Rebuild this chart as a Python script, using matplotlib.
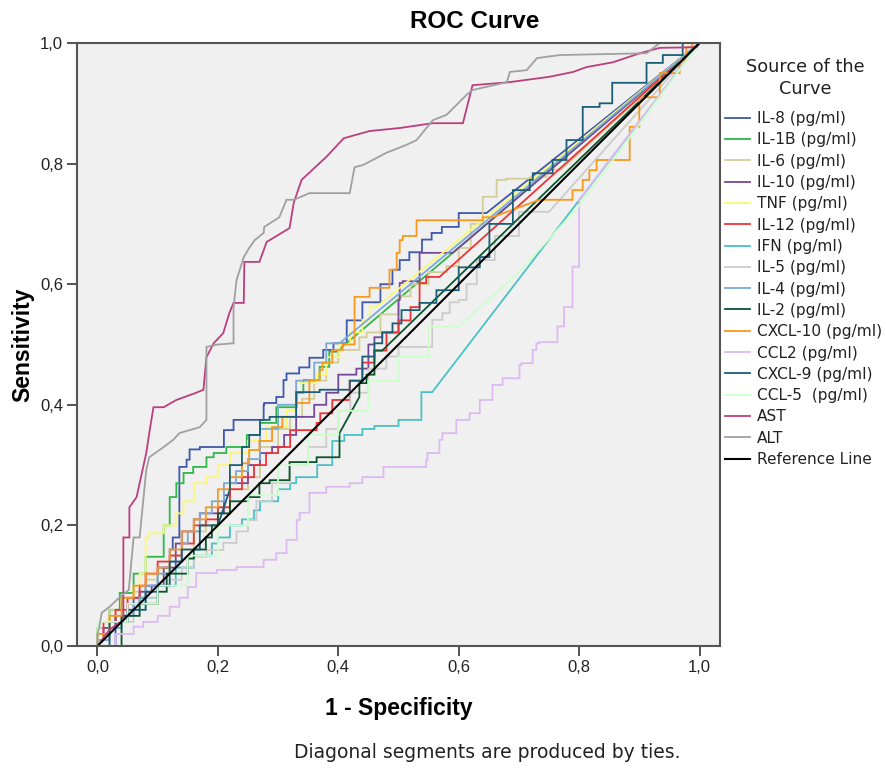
import matplotlib
matplotlib.use("Agg")
import matplotlib.pyplot as plt

plt.rcParams['font.family'] = ['Liberation Sans', 'DejaVu Sans']

# ---------------- data ----------------
labels = ["IL-8 (pg/ml)", "IL-1B (pg/ml)", "IL-6 (pg/ml)", "IL-10 (pg/ml)", "TNF (pg/ml)",
          "IL-12 (pg/ml)", "IFN (pg/ml)", "IL-5 (pg/ml)", "IL-4 (pg/ml)", "IL-2 (pg/ml)",
          "CXCL-10 (pg/ml)", "CCL2 (pg/ml)", "CXCL-9 (pg/ml)", "CCL-5  (pg/ml)", "AST", "ALT"]
colors = ['#3E58AC', '#2EB848', '#D3CE97', '#74489A', '#FBF873', '#EF3338', '#48C2C5', '#CCCCCC',
          '#7AAAD5', '#0A562C', '#F8981D', '#DDBAF1', '#1A5F76', '#CCFFCC', '#BB3F7F', '#A0A0A0']

il8_x = [0, 0.03, 0.03, 0.06, 0.08, 0.10, 0.12, 0.125, 0.136, 0.136, 0.148, 0.153, 0.17, 0.21, 0.226, 0.231, 0.276, 0.277, 0.297, 0.309, 0.314, 0.335, 0.352, 0.375, 0.392, 0.414, 0.44, 0.47, 0.49, 0.502, 0.518, 0.539, 0.555, 0.572, 0.60, 0.646, 1.0]
il8_y = [0, 0.0, 0.03, 0.05, 0.08, 0.10, 0.13, 0.16, 0.18, 0.297, 0.297, 0.309, 0.326, 0.33, 0.358, 0.375, 0.375, 0.40, 0.403, 0.413, 0.441, 0.452, 0.462, 0.478, 0.491, 0.502, 0.54, 0.57, 0.60, 0.624, 0.64, 0.653, 0.674, 0.685, 0.695, 0.718, 1.0]

il1b_x = [0, 0.02, 0.037, 0.06, 0.08, 0.11, 0.12, 0.131, 0.143, 0.159, 0.181, 0.193, 0.214, 0.226, 0.248, 0.27, 0.297, 0.331, 0.342, 0.369, 0.385, 0.397, 1.0]
il1b_y = [0, 0.03, 0.06, 0.088, 0.12, 0.148, 0.20, 0.247, 0.27, 0.287, 0.297, 0.313, 0.32, 0.33, 0.33, 0.35, 0.37, 0.396, 0.42, 0.441, 0.463, 0.488, 1.0]

il6_x = [0, 0.0, 0.02, 0.04, 0.06, 0.08, 0.10, 0.12, 0.14, 0.16, 0.18, 0.20, 0.22, 0.25, 0.27, 0.30, 0.32, 0.34, 0.36, 0.38, 0.40, 0.414, 0.435, 0.447, 0.47, 0.50, 0.52, 0.55, 0.58, 0.60, 0.62, 0.64, 0.663, 0.663, 0.679, 0.72, 0.746, 0.77, 1.0]
il6_y = [0, 0.03, 0.03, 0.06, 0.08, 0.09, 0.11, 0.12, 0.15, 0.16, 0.19, 0.20, 0.23, 0.26, 0.28, 0.33, 0.36, 0.38, 0.41, 0.44, 0.47, 0.491, 0.491, 0.512, 0.52, 0.55, 0.58, 0.60, 0.62, 0.63, 0.66, 0.70, 0.745, 0.756, 0.773, 0.775, 0.778, 0.79, 1.0]

il10_x = [0, 0.01, 0.03, 0.05, 0.07, 0.09, 0.11, 0.13, 0.14, 0.16, 0.17, 0.19, 0.21, 0.22, 0.25, 0.27, 0.29, 0.31, 0.33, 0.36, 0.38, 0.40, 0.43, 0.45, 0.46, 0.473, 0.50, 0.502, 0.507, 0.535, 0.535, 0.59, 1.0]
il10_y = [0, 0.02, 0.03, 0.05, 0.07, 0.09, 0.10, 0.13, 0.17, 0.19, 0.21, 0.22, 0.22, 0.25, 0.27, 0.30, 0.32, 0.33, 0.35, 0.38, 0.40, 0.42, 0.45, 0.46, 0.50, 0.512, 0.52, 0.574, 0.602, 0.605, 0.645, 0.652, 1.0]

tnf_x = [0, 0.02, 0.04, 0.06, 0.07, 0.08, 0.08, 0.086, 0.11, 0.13, 0.143, 0.16, 0.181, 0.20, 0.22, 0.25, 0.28, 0.314, 0.33, 0.364, 0.38, 0.402, 0.42, 0.44, 0.452, 0.463, 1.0]
tnf_y = [0, 0.02, 0.05, 0.08, 0.10, 0.12, 0.16, 0.18, 0.187, 0.20, 0.22, 0.24, 0.27, 0.28, 0.30, 0.32, 0.34, 0.363, 0.39, 0.436, 0.45, 0.479, 0.50, 0.52, 0.541, 0.562, 1.0]

il12_x = [0, 0.01, 0.03, 0.05, 0.07, 0.08, 0.10, 0.12, 0.14, 0.16, 0.18, 0.20, 0.22, 0.24, 0.26, 0.28, 0.30, 0.32, 0.34, 0.364, 0.37, 0.39, 0.419, 0.44, 0.46, 0.48, 0.50, 0.52, 0.535, 0.546, 0.568, 1.0]
il12_y = [0, 0.01, 0.04, 0.06, 0.08, 0.10, 0.12, 0.14, 0.15, 0.17, 0.20, 0.21, 0.23, 0.26, 0.28, 0.30, 0.32, 0.33, 0.358, 0.358, 0.37, 0.386, 0.408, 0.44, 0.47, 0.49, 0.52, 0.54, 0.562, 0.602, 0.612, 1.0]

ifn_x = [0, 0.02, 0.05, 0.07, 0.10, 0.13, 0.16, 0.19, 0.20, 0.22, 0.24, 0.26, 0.27, 0.30, 0.32, 0.33, 0.365, 0.39, 0.41, 0.42, 0.44, 0.46, 0.48, 0.50, 0.502, 0.538, 0.538, 0.556, 1.0]
ifn_y = [0, 0.02, 0.04, 0.06, 0.08, 0.10, 0.13, 0.15, 0.17, 0.18, 0.20, 0.21, 0.225, 0.24, 0.26, 0.27, 0.28, 0.30, 0.34, 0.35, 0.35, 0.36, 0.365, 0.365, 0.375, 0.375, 0.421, 0.421, 1.0]

il5_x = [0, 0.02, 0.04, 0.06, 0.08, 0.10, 0.12, 0.14, 0.16, 0.181, 0.209, 0.231, 0.25, 0.264, 0.29, 0.32, 0.35, 0.38, 0.40, 0.42, 0.45, 0.48, 0.50, 0.513, 0.556, 0.556, 0.573, 0.585, 0.60, 0.613, 0.63, 0.66, 0.70, 0.75, 1.0]
il5_y = [0, 0.01, 0.03, 0.04, 0.06, 0.08, 0.10, 0.11, 0.13, 0.148, 0.159, 0.171, 0.19, 0.209, 0.24, 0.27, 0.30, 0.33, 0.36, 0.39, 0.42, 0.46, 0.48, 0.496, 0.496, 0.519, 0.541, 0.552, 0.57, 0.574, 0.60, 0.64, 0.68, 0.72, 1.0]

il4_x = [0, 0.02, 0.04, 0.06, 0.08, 0.10, 0.12, 0.14, 0.15, 0.17, 0.19, 0.21, 0.23, 0.25, 0.27, 0.30, 0.33, 0.36, 0.38, 0.402, 1.0]
il4_y = [0, 0.01, 0.03, 0.05, 0.07, 0.10, 0.12, 0.14, 0.17, 0.19, 0.22, 0.24, 0.27, 0.29, 0.31, 0.36, 0.40, 0.44, 0.47, 0.502, 1.0]

il2_x = [0, 0.04, 0.04, 0.07, 0.10, 0.115, 0.13, 0.15, 0.16, 0.18, 0.19, 0.20, 0.22, 0.25, 0.269, 0.286, 0.319, 0.364, 0.402, 0.402, 0.435, 0.447, 0.46, 0.473, 1.0]
il2_y = [0, 0.0, 0.03, 0.05, 0.07, 0.09, 0.12, 0.12, 0.145, 0.16, 0.18, 0.20, 0.22, 0.24, 0.247, 0.27, 0.275, 0.305, 0.313, 0.353, 0.413, 0.436, 0.45, 0.49, 1.0]

cxcl10_x = [0, 0.02, 0.04, 0.06, 0.08, 0.10, 0.12, 0.14, 0.16, 0.18, 0.20, 0.22, 0.24, 0.252, 0.269, 0.29, 0.307, 0.33, 0.352, 0.369, 0.374, 0.39, 0.407, 0.427, 0.427, 0.452, 0.458, 0.485, 0.497, 0.502, 0.507, 0.53, 0.556, 0.64, 0.656, 0.734, 0.789, 0.806, 0.817, 0.829, 0.845, 0.884, 0.884, 0.90, 0.905, 0.934, 0.939, 0.967, 0.978, 0.988, 1.0]
cxcl10_y = [0, 0.02, 0.05, 0.08, 0.10, 0.12, 0.13, 0.16, 0.19, 0.21, 0.23, 0.26, 0.28, 0.303, 0.325, 0.34, 0.363, 0.38, 0.403, 0.441, 0.458, 0.47, 0.491, 0.50, 0.562, 0.579, 0.594, 0.594, 0.624, 0.652, 0.673, 0.68, 0.706, 0.706, 0.711, 0.74, 0.74, 0.756, 0.773, 0.789, 0.806, 0.806, 0.851, 0.861, 0.905, 0.91, 0.95, 0.95, 0.972, 0.993, 1.0]

ccl2_x = [0, 0.03, 0.03, 0.06, 0.076, 0.10, 0.12, 0.136, 0.15, 0.164, 0.198, 0.231, 0.276, 0.297, 0.314, 0.331, 0.331, 0.336, 0.352, 0.38, 0.385, 0.419, 0.44, 0.475, 0.485, 0.546, 0.548, 0.568, 0.573, 0.596, 0.618, 0.635, 0.656, 0.673, 0.679, 0.701, 0.704, 0.723, 0.729, 0.734, 0.764, 0.775, 0.789, 0.789, 0.80, 0.80, 1.0]
ccl2_y = [0, 0.0, 0.01, 0.02, 0.032, 0.04, 0.05, 0.065, 0.08, 0.098, 0.121, 0.126, 0.131, 0.143, 0.154, 0.176, 0.19, 0.209, 0.221, 0.254, 0.264, 0.264, 0.27, 0.28, 0.297, 0.297, 0.308, 0.32, 0.342, 0.353, 0.375, 0.386, 0.408, 0.433, 0.444, 0.444, 0.466, 0.469, 0.491, 0.502, 0.504, 0.53, 0.562, 0.624, 0.629, 0.74, 1.0]

cxcl9_x = [0, 0.02, 0.02, 0.05, 0.08, 0.10, 0.12, 0.14, 0.17, 0.19, 0.20, 0.22, 0.24, 0.252, 0.27, 0.286, 0.33, 0.369, 0.419, 0.44, 0.46, 0.473, 0.49, 0.505, 0.513, 0.535, 0.563, 0.60, 0.635, 0.635, 0.651, 0.69, 0.718, 0.723, 0.756, 0.779, 0.806, 0.806, 0.834, 0.855, 0.912, 0.912, 0.939, 0.939, 0.972, 0.972, 1.0]
cxcl9_y = [0, 0.0, 0.02, 0.04, 0.06, 0.09, 0.10, 0.14, 0.16, 0.20, 0.20, 0.26, 0.30, 0.33, 0.35, 0.375, 0.38, 0.421, 0.425, 0.44, 0.48, 0.502, 0.52, 0.535, 0.557, 0.557, 0.569, 0.59, 0.628, 0.645, 0.645, 0.70, 0.756, 0.773, 0.784, 0.806, 0.839, 0.877, 0.894, 0.90, 0.934, 0.96, 0.967, 0.98, 0.98, 0.988, 1.0]

ccl5_x = [0, 0.05, 0.10, 0.15, 0.20, 0.25, 0.30, 0.35, 0.40, 0.45, 0.50, 0.55, 0.60, 0.70, 0.80, 1.0]
ccl5_y = [0, 0.04, 0.07, 0.10, 0.15, 0.20, 0.25, 0.30, 0.35, 0.39, 0.44, 0.48, 0.53, 0.62, 0.73, 1.0]

ast_x = [0, 0.02, 0.043, 0.043, 0.053, 0.053, 0.065, 0.081, 0.086, 0.093, 0.11, 0.131, 0.164, 0.176, 0.181, 0.193, 0.209, 0.219, 0.226, 0.243, 0.244, 0.269, 0.281, 0.319, 0.326, 0.339, 0.38, 0.409, 0.452, 0.502, 0.557, 0.607, 0.623, 0.684, 0.751, 0.79, 0.812, 0.856, 0.901, 0.934, 0.995, 1.0]
ast_y = [0, 0.027, 0.043, 0.18, 0.18, 0.23, 0.247, 0.32, 0.353, 0.396, 0.396, 0.408, 0.42, 0.425, 0.479, 0.502, 0.519, 0.552, 0.569, 0.569, 0.637, 0.637, 0.67, 0.693, 0.735, 0.773, 0.811, 0.842, 0.854, 0.859, 0.867, 0.867, 0.93, 0.935, 0.944, 0.952, 0.96, 0.968, 0.983, 0.992, 0.993, 1.0]

alt_x = [0, 0.0, 0.003, 0.007, 0.02, 0.037, 0.052, 0.06, 0.07, 0.081, 0.086, 0.11, 0.126, 0.136, 0.17, 0.181, 0.181, 0.2, 0.226, 0.226, 0.231, 0.243, 0.252, 0.261, 0.276, 0.277, 0.302, 0.314, 0.326, 0.352, 0.419, 0.427, 0.442, 0.48, 0.513, 0.53, 0.557, 0.58, 0.613, 0.623, 0.68, 0.685, 0.713, 0.73, 0.768, 0.912, 0.934, 1.0]
alt_y = [0, 0.02, 0.032, 0.055, 0.065, 0.081, 0.093, 0.18, 0.18, 0.292, 0.313, 0.33, 0.342, 0.353, 0.363, 0.375, 0.496, 0.50, 0.502, 0.562, 0.607, 0.645, 0.66, 0.673, 0.685, 0.695, 0.711, 0.74, 0.74, 0.751, 0.751, 0.794, 0.798, 0.818, 0.831, 0.839, 0.872, 0.881, 0.914, 0.922, 0.935, 0.952, 0.955, 0.975, 0.98, 0.983, 1.0, 1.0]

series_x = [il8_x, il1b_x, il6_x, il10_x, tnf_x, il12_x, ifn_x, il5_x, il4_x, il2_x,
            cxcl10_x, ccl2_x, cxcl9_x, ccl5_x, ast_x, alt_x]
series_y = [il8_y, il1b_y, il6_y, il10_y, tnf_y, il12_y, ifn_y, il5_y, il4_y, il2_y,
            cxcl10_y, ccl2_y, cxcl9_y, ccl5_y, ast_y, alt_y]
stepped = [True] * 14 + [False, False]

ref_x = [0, 1]
ref_y = [0, 1]
tick_vals = [0.0, 0.2, 0.4, 0.6, 0.8, 1.0]
tick_labels = ["0,0", "0,2", "0,4", "0,6", "0,8", "1,0"]


def stepify(xs, ys, thr=0.06):
    ox, oy = [xs[0]], [ys[0]]
    for i in range(1, len(xs)):
        x0, y0, x1, y1 = xs[i - 1], ys[i - 1], xs[i], ys[i]
        if x1 > x0 and y1 > y0 and max(x1 - x0, y1 - y0) < thr:
            ox.append(x0)
            oy.append(y1)
        ox.append(x1)
        oy.append(y1)
    return ox, oy


fig = plt.figure(figsize=(8.86, 7.69), dpi=100)
ax = fig.add_axes([77 / 886, 1 - 646 / 769, (720 - 77) / 886, (646 - 43) / 769])
ax.set_facecolor('#F0F0F0')

handles = []
for xs, ys, st, lab, col in zip(series_x, series_y, stepped, labels, colors):
    if st:
        xs, ys = stepify(xs, ys)
    h, = ax.plot(xs, ys, color=col, lw=1.3, label=lab, solid_joinstyle='miter')
    handles.append(h)
h, = ax.plot(ref_x, ref_y, color='black', lw=1.5, label='Reference Line')
handles.append(h)

ax.set_xlim(-0.034, 1.034)
ax.set_ylim(0, 1)
ax.set_xticks(tick_vals)
ax.set_xticklabels(tick_labels)
ax.set_yticks(tick_vals)
ax.set_yticklabels(tick_labels)
ax.tick_params(direction='out', length=7, width=1.3, color='#444444', labelsize=12, pad=3,
               labelcolor='#222222')
for s in ax.spines.values():
    s.set_color('#555555')
    s.set_linewidth(1.5)

ax.set_xlabel('1 - Specificity', fontsize=16.5, fontweight='bold', labelpad=16)
ax.set_ylabel('Sensitivity', fontsize=16.5, fontweight='bold', labelpad=4)
fig.text(475 / 886, 1 - 22 / 769, 'ROC Curve', fontsize=17.5, fontweight='bold', ha='center', va='center')
fig.text(487 / 886, 1 - 752 / 769, 'Diagonal segments are produced by ties.', fontsize=13.5,
         ha='center', va='center', family='DejaVu Sans', color='#222222')

# legend title drawn as figure text so its spacing can follow the reference
fig.text(805 / 886, 1 - 78 / 769, 'Source of the\nCurve', fontsize=12.8, family='DejaVu Sans',
         ha='center', va='center', multialignment='center', linespacing=1.25, color='#222222')

leg = fig.legend(handles=handles, loc='upper left', bbox_to_anchor=(725 / 886, 1 - 111 / 769),
                 prop={'family': 'DejaVu Sans', 'size': 11.1},
                 frameon=False, handlelength=1.65, handletextpad=0.4, labelspacing=0.41,
                 borderaxespad=0, borderpad=0)
for t in leg.get_texts():
    t.set_color('#222222')

fig.savefig('out.png', dpi=100, facecolor='white')
